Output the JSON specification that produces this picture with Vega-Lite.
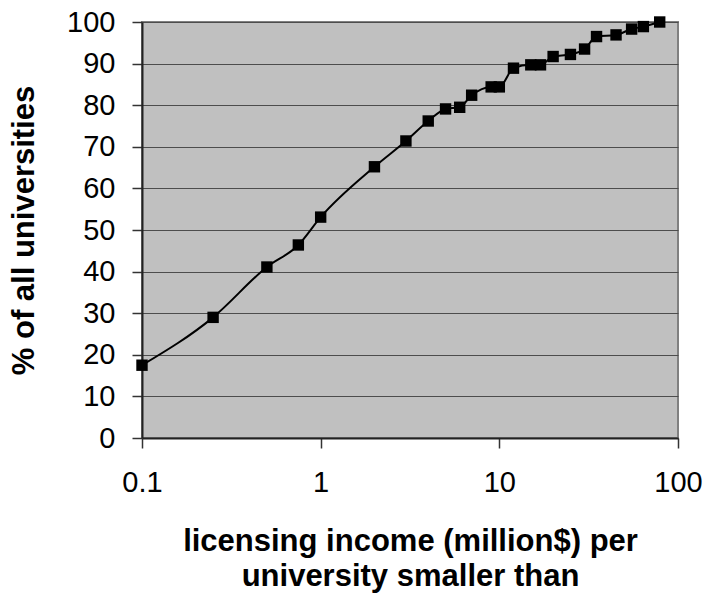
{
  "$schema": "https://vega.github.io/schema/vega-lite/v6.json",
  "width": 536,
  "height": 416,
  "autosize": {"type": "none"},
  "padding": {"left": 142, "top": 22, "right": 29, "bottom": 158},
  "background": "white",
  "config": {
    "font": "Liberation Sans",
    "view": {"fill": "#C0C0C0", "stroke": "#808080", "strokeWidth": 2},
    "axis": {
      "labelFont": "Liberation Sans",
      "titleFont": "Liberation Sans",
      "labelColor": "black",
      "titleColor": "black",
      "domainColor": "#222222",
      "domainWidth": 2,
      "tickColor": "#333333",
      "tickWidth": 1.5,
      "tickSize": 10
    }
  },
  "data": {
    "values": [
      {"income": 0.1, "pct": 17.5},
      {"income": 0.25, "pct": 29.0},
      {"income": 0.5, "pct": 41.1},
      {"income": 0.75, "pct": 46.4},
      {"income": 1, "pct": 53.1},
      {"income": 2, "pct": 65.2},
      {"income": 3, "pct": 71.4},
      {"income": 4, "pct": 76.2},
      {"income": 5, "pct": 79.1},
      {"income": 6, "pct": 79.5},
      {"income": 7, "pct": 82.4},
      {"income": 9, "pct": 84.4},
      {"income": 10, "pct": 84.4},
      {"income": 12, "pct": 88.9},
      {"income": 15, "pct": 89.7},
      {"income": 17, "pct": 89.7},
      {"income": 20, "pct": 91.7},
      {"income": 25, "pct": 92.2},
      {"income": 30, "pct": 93.5},
      {"income": 35, "pct": 96.5},
      {"income": 45, "pct": 96.9},
      {"income": 55, "pct": 98.3},
      {"income": 64, "pct": 98.9},
      {"income": 79, "pct": 100}
    ]
  },
  "encoding": {
    "x": {
      "field": "income",
      "type": "quantitative",
      "scale": {"type": "log", "domain": [0.1, 100], "nice": false},
      "axis": {
        "values": [0.1, 1, 10, 100],
        "format": "~g",
        "grid": false,
        "labelFontSize": 29,
        "labelPadding": 20,
        "labelFlush": false,
        "title": ["licensing income (million$) per", "university smaller than"],
        "titleFontSize": 31,
        "titleFontWeight": "bold",
        "titleLineHeight": 35,
        "titleBaseline": "alphabetic",
        "titleY": 112
      }
    },
    "y": {
      "field": "pct",
      "type": "quantitative",
      "scale": {"domain": [0, 100], "nice": false},
      "axis": {
        "values": [0, 10, 20, 30, 40, 50, 60, 70, 80, 90, 100],
        "grid": true,
        "gridColor": "#4d4d4d",
        "gridWidth": 1.2,
        "labelFontSize": 29,
        "labelPadding": 17,
        "labelFlush": false,
        "title": "% of all universities",
        "titleFontSize": 31,
        "titleFontWeight": "bold",
        "titleAngle": 270,
        "titleBaseline": "alphabetic",
        "titleX": -109
      }
    }
  },
  "layer": [
    {
      "mark": {"type": "line", "color": "black", "strokeWidth": 2, "interpolate": "monotone", "clip": false}
    },
    {
      "mark": {"type": "point", "shape": "square", "filled": true, "color": "black", "opacity": 1, "size": 130, "clip": false}
    }
  ]
}
